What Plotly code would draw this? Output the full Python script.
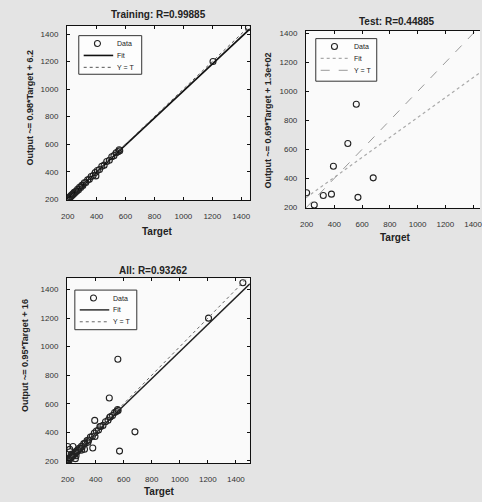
import plotly.graph_objects as go

W, H = 482, 502

tick_vals = [200, 400, 600, 800, 1000, 1200, 1400]
tick_text = ["200", "400", "600", "800", "1000", "1200", "1400"]

# Training subset (Target, Output)
train_target = [205, 210, 212, 218, 222, 226, 230, 236, 240, 245, 250, 256, 262, 268, 275,
                282, 290, 298, 305, 315, 325, 338, 350, 362, 376, 390, 395, 405, 420, 436,
                452, 470, 488, 505, 520, 535, 548, 556, 560, 1205, 1450]
train_output = [208, 215, 206, 222, 219, 231, 228, 240, 236, 250, 247, 259, 258, 273, 270,
                287, 286, 302, 300, 320, 322, 341, 346, 366, 372, 394, 370, 409, 416, 440,
                448, 474, 484, 509, 517, 538, 545, 560, 552, 1200, 1448]
train_fit = [0.98, 6.2]

# Test subset
test_target = [200, 255, 320, 379, 393, 497, 558, 570, 680]
test_output = [300, 215, 281, 290, 483, 640, 912, 268, 403]
test_fit = [0.69, 130]

# Validation subset (only visible in "All")
val_target = [215, 225, 238, 260, 300, 345, 430, 500]
val_output = [280, 245, 300, 235, 275, 330, 440, 505]
all_fit = [0.95, 16]

all_target = train_target + test_target + val_target
all_output = train_output + test_output + val_output

titles = ["Training: R=0.99885", "Test: R=0.44885", "All: R=0.93262"]
ylabels = ["Output ~= 0.98*Target + 6.2", "Output ~= 0.69*Target + 1.3e+02",
           "Output ~= 0.95*Target + 16"]
xlabel = "Target"
legend_labels = ["Data", "Fit", "Y = T"]

FONT = "Liberation Sans, Arial, Helvetica, sans-serif"


def px(x):
    return x / W


def py(y):
    return 1 - y / H


fig = go.Figure()

panels = [
    dict(t=train_target, o=train_output, fit=train_fit, xr=[195, 1460], yr=[195, 1460],
         xd=[px(62), px(248)], yd=[py(201), py(25)], leg=(74, 35, 64, 39),
         fitstyle=dict(color="#111", width=1.6, dash="solid"),
         ytstyle=dict(color="#555", width=1, dash="dot")),
    dict(t=test_target, o=test_output, fit=test_fit, xr=[195, 1450], yr=[195, 1420],
         xd=[px(305), 1.0], yd=[py(209), py(30)], leg=(315, 38, 62, 43),
         fitstyle=dict(color="#aaa", width=1.2, dash="dot"),
         ytstyle=dict(color="#999", width=1, dash="dash")),
    dict(t=all_target, o=all_output, fit=all_fit, xr=[195, 1500], yr=[182, 1480],
         xd=[px(62), px(248)], yd=[py(467), py(280)], leg=(70, 292, 63, 40),
         fitstyle=dict(color="#222", width=1.4, dash="solid"),
         ytstyle=dict(color="#666", width=1, dash="dot")),
]

shapes = []
ann = []

for i, p in enumerate(panels):
    n = "" if i == 0 else str(i + 1)
    xa, ya = "x" + n, "y" + n
    x0, x1 = p["xr"]
    m, b = p["fit"]
    fig.add_trace(go.Scatter(x=p["t"], y=p["o"], mode="markers", name="Data",
                             marker=dict(symbol="circle-open", size=6, color="#222",
                                         line=dict(width=1.1, color="#222")),
                             xaxis=xa, yaxis=ya, showlegend=False))
    fig.add_trace(go.Scatter(x=[x0, x1], y=[m * x0 + b, m * x1 + b], mode="lines",
                             name="Fit", line=p["fitstyle"], xaxis=xa, yaxis=ya,
                             showlegend=False))
    fig.add_trace(go.Scatter(x=[x0, x1], y=[x0, x1], mode="lines", name="Y = T",
                             line=p["ytstyle"], xaxis=xa, yaxis=ya, showlegend=False))
    axcommon = dict(showgrid=False, zeroline=False, showline=True, linecolor="#111",
                    linewidth=1, ticks="inside", ticklen=3, tickcolor="#111",
                    tickvals=tick_vals, ticktext=tick_text, ticklabeloverflow="allow",
                    tickfont=dict(family=FONT, size=8, color="#333"))
    fig.update_layout({
        "xaxis" + n: dict(domain=p["xd"], range=p["xr"], anchor=ya, mirror="ticks",
                          ticklabelstandoff=8, **axcommon),
        "yaxis" + n: dict(domain=p["yd"], range=p["yr"], anchor=xa,
                          mirror=("ticks" if i != 1 else False),
                          ticklabelstandoff=6, **axcommon),
    })

    # MATLAB-style compact legend box
    lx, ly, lw, lh = p["leg"]
    shapes.append(dict(type="rect", xref="paper", yref="paper",
                       x0=px(lx), x1=px(lx + lw), y0=py(ly + lh), y1=py(ly),
                       line=dict(color="#333", width=1), fillcolor="#fdfdfd", layer="above"))
    rows = [ly + 8, ly + 20, ly + 32]
    shapes.append(dict(type="circle", xref="paper", yref="paper",
                       xsizemode="pixel", ysizemode="pixel",
                       xanchor=px(lx + 19), yanchor=py(rows[0]),
                       x0=-3, x1=3, y0=-3, y1=3,
                       line=dict(color="#222", width=1.1), layer="above"))
    shapes.append(dict(type="line", xref="paper", yref="paper",
                       x0=px(lx + 5), x1=px(lx + 35), y0=py(rows[1]), y1=py(rows[1]),
                       line=p["fitstyle"], layer="above"))
    shapes.append(dict(type="line", xref="paper", yref="paper",
                       x0=px(lx + 5), x1=px(lx + 35), y0=py(rows[2]), y1=py(rows[2]),
                       line=p["ytstyle"], layer="above"))
    for r, lab in zip(rows, legend_labels):
        ann.append(dict(text=lab, x=px(lx + 37), y=py(r), xref="paper", yref="paper",
                        xanchor="left", yanchor="middle", showarrow=False,
                        font=dict(family=FONT, size=7, color="#222")))

title_pos = [(155, 14), (398, 21), (150, 272)]
xlab_pos = [(154, 233), (396, 239), (156, 495)]
ylab_pos = [(24, 108), (266, 121), (20, 358)]
for i in range(3):
    ann.append(dict(text="<b>" + titles[i] + "</b>", x=px(title_pos[i][0]), y=py(title_pos[i][1]),
                    xref="paper", yref="paper", xanchor="center", yanchor="middle",
                    showarrow=False, font=dict(family=FONT, size=10, color="#222")))
    ann.append(dict(text="<b>" + xlabel + "</b>", x=px(xlab_pos[i][0]), y=py(xlab_pos[i][1]),
                    xref="paper", yref="paper", xanchor="center", yanchor="middle",
                    showarrow=False, font=dict(family=FONT, size=10, color="#222")))
    ann.append(dict(text="<b>" + ylabels[i] + "</b>", x=px(ylab_pos[i][0]), y=py(ylab_pos[i][1]),
                    xref="paper", yref="paper", xanchor="center", yanchor="middle",
                    showarrow=False, textangle=-90,
                    font=dict(family=FONT, size=9, color="#222")))

fig.update_layout(
    annotations=ann,
    shapes=shapes,
    width=W, height=H, autosize=False,
    margin=dict(l=0, r=0, t=0, b=0),
    paper_bgcolor="#e4e4e4", plot_bgcolor="#fafafa",
    showlegend=False,
)

fig.write_html("out.html", config={"displayModeBar": False},
               post_script="document.body.style.margin='0';document.body.style.overflow='hidden';")
